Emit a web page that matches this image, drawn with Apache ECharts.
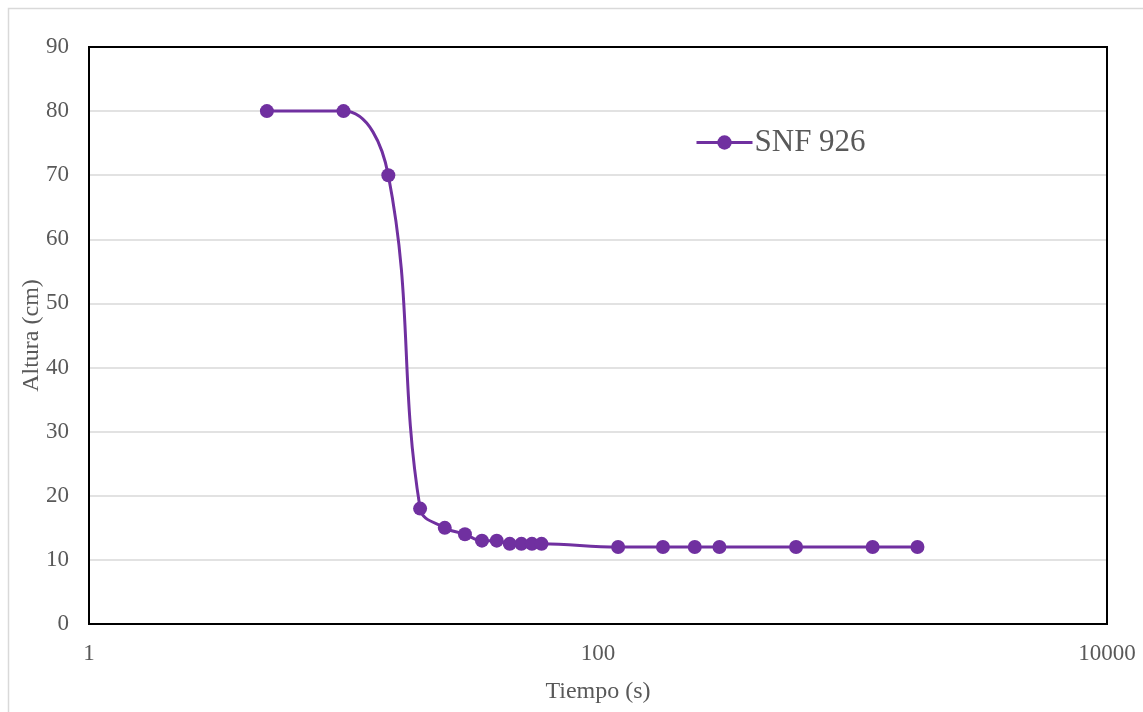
<!DOCTYPE html>
<html>
<head>
<meta charset="utf-8">
<script src="https://cdn.jsdelivr.net/npm/echarts@6/dist/echarts.min.js"></script>
<style>html,body{margin:0;padding:0;background:#fff}#c{width:1143px;height:712px}</style>
</head>
<body>
<div id="c"></div>
<script>
const seriesName = 'SNF 926';
const tiempo = [5, 10, 15, 20, 25, 30, 35, 40, 45, 50, 55, 60, 120, 180, 240, 300, 600, 1200, 1800];
const altura = [80, 80, 70, 18, 15, 14, 13, 13, 12.5, 12.5, 12.5, 12.5, 12, 12, 12, 12, 12, 12, 12];
const xAxisName = 'Tiempo (s)';
const yAxisName = 'Altura (cm)';

const font = '"Liberation Serif", "Times New Roman", serif';
const chart = echarts.init(document.getElementById('c'));
chart.setOption({
  animation: false,
  graphic: [{
    type: 'rect', shape: {x: 8.5, y: 8.5, width: 1140, height: 710},
    style: {fill: 'none', stroke: '#d9d9d9', lineWidth: 1.5}, silent: true, z: -10
  }],
  grid: {left: 89, right: 36, top: 47, bottom: 88, show: true, borderColor: '#000', borderWidth: 2, backgroundColor: 'transparent', z: 10},
  legend: {
    left: 690, top: 122, itemWidth: 56, itemHeight: 18, itemGap: 2,
    lineStyle: {width: 3},
    textStyle: {fontFamily: font, fontSize: 31, color: '#595959', padding: [0, 0, 0, -3]},
    data: [seriesName]
  },
  xAxis: {
    type: 'log', logBase: 100, min: 1, max: 10000,
    name: xAxisName, nameLocation: 'middle', nameGap: 56,
    nameTextStyle: {fontFamily: font, fontSize: 24, color: '#595959'},
    axisLine: {show: false}, axisTick: {show: false}, splitLine: {show: false}, minorTick: {show: false},
    axisLabel: {fontFamily: font, fontSize: 23, color: '#595959', margin: 18, formatter: v => String(Math.round(v))}
  },
  yAxis: {
    type: 'value', min: 0, max: 90, interval: 10,
    name: yAxisName, nameLocation: 'middle', nameGap: 45, nameMoveOverlap: false,
    nameTextStyle: {fontFamily: font, fontSize: 24, color: '#595959'},
    axisLine: {show: false}, axisTick: {show: false},
    splitLine: {showMinLine: false, showMaxLine: false, lineStyle: {color: '#d9d9d9', width: 1.5}},
    axisLabel: {fontFamily: font, fontSize: 23, color: '#595959', margin: 20}
  },
  series: [{
    name: seriesName, type: 'line', smooth: 0.4,
    data: tiempo.map((t, i) => [t, altura[i]]),
    symbol: 'circle', symbolSize: 14,
    lineStyle: {color: '#7030A0', width: 3},
    itemStyle: {color: '#7030A0'}
  }]
});
</script>
</body>
</html>
